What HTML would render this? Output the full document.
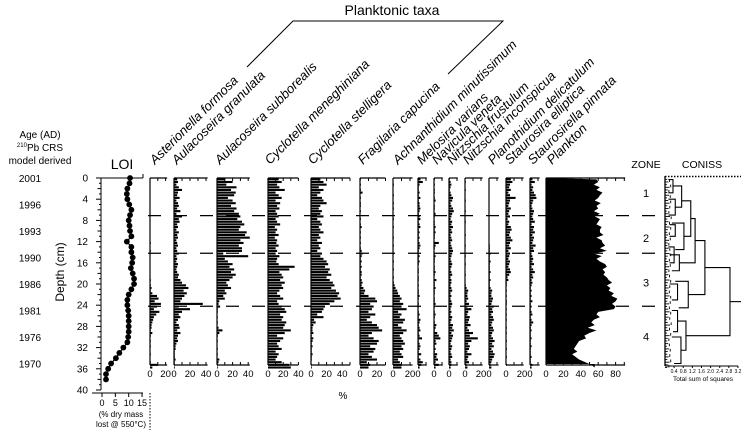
<!DOCTYPE html>
<html><head><meta charset="utf-8">
<style>
html,body{margin:0;padding:0;background:#fff;}
svg{display:block;font-family:"Liberation Sans",Arial,sans-serif;}
</style></head>
<body>
<svg id="chart" width="742" height="430" viewBox="0 0 742 430" xmlns="http://www.w3.org/2000/svg">
  <text x="392" y="15" font-size="14" text-anchor="middle">Planktonic taxa</text>
  <polyline points="247,67 293,21 503,21 448,74" fill="none" stroke="#000" stroke-width="1"/>
  <text x="40" y="138" font-size="10" text-anchor="middle">Age (AD)</text>
  <text x="40" y="151" font-size="10" text-anchor="middle"><tspan font-size="6" dy="-4">210</tspan><tspan dy="4">Pb CRS</tspan></text>
  <text x="40" y="164" font-size="10" text-anchor="middle">model derived</text>
  <text x="122" y="169" font-size="14" text-anchor="middle">LOI</text>
  <text x="646" y="168" font-size="10.5" text-anchor="middle">ZONE</text>
  <text x="702" y="168" font-size="10.5" text-anchor="middle">CONISS</text>
  <text x="0" y="0" font-size="12" text-anchor="middle" transform="translate(64,272) rotate(-90)">Depth (cm)</text>
  <text x="343" y="399" font-size="10" text-anchor="middle">%</text>
  <text x="121" y="417" font-size="8" text-anchor="middle">(% dry mass</text>
  <text x="121" y="427" font-size="8" text-anchor="middle">lost @ 550°C)</text>
  <line x1="150" y1="393" x2="150" y2="430" stroke="#000" stroke-width="1" stroke-dasharray="1.5 1.5"/>
  <text x="703" y="381" font-size="6.5" text-anchor="middle">Total sum of squares</text>
  <g id="plot"></g>
</svg>
<script>
// ---------- data ----------
const ageLabels = ["2001","1996","1993","1990","1986","1981","1976","1970"];
const ageDepths = [0,5,10,15,20,25,30,35];
const depthTicks = [0,4,8,12,16,20,24,28,32,36,40];
const zoneBoundaries = [7.1,14.2,24.2];
const zoneLabels = ["1","2","3","4"];
const zoneLabelDepths = [2.6,11.1,19.5,29.7];
const loiTicks = [0,5,10,15];
const loiDepths = [0,1,2,3,4,5,6,7,8,9,10,11,12,13,14,15,16,17,18,19,20,21,22,23,24,25,26,27,28,29,30,31,32,33,34,35,36,37,38];
const loiValues = [10.5,10.3,9.5,9.3,9.5,10.2,11,10.5,10,10.3,10.5,11,9.3,11,11,11.5,11.3,10.8,11.5,12,12,11,10,9.5,9.5,9.8,10,10,10,10,9.8,9.5,8,6.5,5.2,3.4,2.3,1.5,1.5];
const sampleStep = 0.5;

const asterionella = [0,0,0,0,0,0,0,0,0,0,0,0,0,0,0,0,0,0,0,0,0,0,0,0,1,0,0,1,0,0,0,0,0,0,0,0,0,0,1,0,1,2,1,3,9,11,6,14,9,5,12,8,5,4,3,2,2,1,3,1,0,1,0,1,0,0,1,0,0,1,10,3];
const aulGranulata = [4,5,3,6,10,5,4,7,3,5,6,4,8,3,10,6,7,4,5,3,6,4,5,3,4,5,3,4,6,3,4,3,5,4,3,4,6,5,8,10,15,18,12,16,13,10,8,36,6,20,10,6,8,5,3,6,7,4,8,5,4,5,3,2,2,1,1,1,2,1,1,1];
const aulSubborealis = [10,20,12,25,18,24,22,14,20,24,18,25,22,28,30,26,32,35,30,28,38,36,42,30,34,28,32,32,8,40,10,14,20,16,22,18,24,20,16,12,14,18,10,12,8,10,3,2,4,1,1,0,1,0,1,0,2,7,3,1,0,1,0,0,1,0,1,0,3,2,1,1];
const cycMeneghiniana = [14,18,12,15,22,10,14,18,10,16,12,15,10,12,14,10,12,16,9,12,10,14,9,12,11,14,10,12,10,15,12,11,14,35,28,15,18,20,16,22,18,20,15,12,16,20,12,14,18,22,24,16,20,18,24,22,20,30,22,12,20,16,12,14,18,10,14,12,10,18,28,30];
const cycStelligera = [12,16,20,10,16,12,8,14,16,20,12,10,14,12,16,8,12,14,10,12,16,10,12,8,14,10,12,8,14,12,16,20,22,18,24,22,26,20,24,28,30,26,32,36,34,38,30,24,18,16,14,8,16,4,6,3,2,2,3,1,3,2,1,2,1,1,2,1,1,0,1,1];
const fragilaria = [1,0,1,0,1,3,0,1,0,1,1,0,1,0,0,1,0,1,2,0,1,0,1,0,1,0,1,2,3,2,1,2,1,2,1,2,2,1,2,3,2,4,6,5,10,18,20,12,16,14,10,18,12,8,14,20,22,26,14,10,16,22,20,12,18,16,10,14,20,8,12,10];
const achnanthidium = [0,0,1,0,0,0,1,0,0,1,0,1,0,0,0,1,0,0,1,0,0,0,1,0,0,1,0,0,1,0,0,1,0,0,1,0,0,1,0,1,2,3,5,6,8,10,8,12,10,16,6,10,8,14,12,6,10,16,12,8,10,12,14,10,12,8,10,12,6,8,10,10];
const melosira = [3,6,2,1,1,2,1,3,1,2,2,3,2,1,2,3,1,2,3,1,2,1,2,1,2,3,2,1,1,2,1,2,1,0,1,1,0,1,1,0,1,0,1,1,2,1,0,1,1,0,1,2,1,3,2,1,2,3,1,2,5,1,2,3,2,1,4,1,3,6,4,2];
const navicula = [1,0,1,0,1,1,0,1,2,0,1,1,0,2,1,0,1,1,2,1,2,1,1,0,6,2,1,0,1,2,1,1,0,1,1,2,1,0,3,1,1,2,1,1,0,1,1,2,1,0,1,2,1,0,1,3,2,1,4,6,8,2,3,1,2,1,4,3,5,2,6,2];
const nitzFrustulum = [1,2,3,2,1,2,3,5,4,2,3,5,6,4,3,2,4,3,5,3,4,2,3,4,2,3,4,5,4,3,2,3,4,3,2,3,4,2,3,3,2,3,4,2,3,2,3,4,3,2,3,2,4,3,2,5,4,6,3,5,4,3,2,4,3,2,3,4,2,3,3,2];
const nitzInconspicua = [0,1,0,0,1,0,0,0,1,0,0,0,1,0,0,0,1,0,0,0,0,1,0,0,0,1,0,0,0,1,0,0,1,0,0,0,1,0,0,0,1,2,4,3,3,4,2,5,3,8,4,3,6,5,4,7,3,5,10,6,16,8,4,6,5,3,8,4,3,5,2,3];
const planothidium = [0,0,0,0,0,0,0,0,0,0,0,0,0,0,0,0,0,0,0,0,0,0,0,0,0,1,1,1,2,1,1,2,1,1,1,2,1,1,2,1,1,2,4,3,3,5,4,3,6,4,5,3,5,6,4,3,5,6,4,3,5,7,4,6,3,5,7,6,4,3,2,3];
const staurElliptica = [6,8,5,4,6,3,5,12,5,4,3,6,4,3,5,2,4,3,6,7,5,4,6,8,5,4,6,3,5,4,3,5,4,3,5,6,4,2,3,1,1,0,1,0,1,0,1,1,0,1,0,1,0,1,0,0,1,0,1,0,0,1,0,0,1,0,0,1,0,0,1,0];
const staurPinnata = [3,6,2,4,3,5,7,8,4,3,2,3,5,4,3,4,6,2,5,4,6,3,5,4,3,7,4,5,2,3,4,3,5,2,4,6,3,4,2,3,2,1,2,1,2,1,3,1,2,1,2,3,1,2,4,2,1,2,1,1,2,1,1,2,1,1,1,2,1,1,3,2];
const plankton = [58,60,55,62,58,65,62,60,56,63,58,60,55,62,56,62,60,58,64,62,62,66,58,64,65,68,62,70,55,64,58,62,68,70,65,68,66,70,72,76,70,74,72,78,75,82,80,76,80,78,60,58,62,55,52,56,48,58,50,44,46,38,36,34,32,36,30,34,38,45,52,56];

const taxonNames = ["Asterionella formosa","Aulacoseira granulata","Aulacoseira subborealis","Cyclotella meneghiniana","Cyclotella stelligera","Fragilaria capucina","Achnanthidium minutissimum","Melosira varians","Navicula veneta","Nitzschia frustulum","Nitzschia inconspicua","Planothidium delicatulum","Staurosira elliptica","Staurosirella pinnata","Plankton"];
const taxonSeries = [asterionella,aulGranulata,aulSubborealis,cycMeneghiniana,cycStelligera,fragilaria,achnanthidium,melosira,navicula,nitzFrustulum,nitzInconspicua,planothidium,staurElliptica,staurPinnata,plankton];
const taxonTickLabels = [[0,20],[0,20,40],[0,20,40],[0,20,40],[0,20,40],[0,20],[0,20],[0],[0],[0],[0,20],[0],[0,20],[0],[0,20,40,60,80]];
const taxonAxisMax = [22,42,42,40,50,30,23,11,11,11,22,12,22,12,91];

const conissTicks = [0.4,0.8,1.2,1.6,2.0,2.4,2.8,3.2];
const leafSS = [0.1,0.15,0.08,0.2,0.12,0.1,0.18,0.09,0.14,0.2,0.1,0.16,0.08,0.12,0.22,0.1,0.15,0.09,0.2,0.12,0.1,0.14,0.08,0.18,0.12,0.1,0.16,0.1,0.2,0.12,0.08,0.14,0.1,0.18,0.12,0.1,0.15,0.08,0.2,0.12,0.1,0.16,0.1,0.14,0.2,0.12,0.1,0.18,0.09,0.14,0.2,0.1,0.16,0.08,0.12,0.22,0.1,0.15,0.09,0.2,0.12,0.1,0.14,0.08,0.18,0.12,0.1,0.16,0.1,0.2,0.12,0.1];
const mergeTop = [0.3,4,1.5,8.5,14.5,4.3,7.65,19.5,11.8,25,30,27,16.9,8.8,20,13];
const mergeBot = [2.8,7,5.5,13.5,17.5,11,16,24.5,22,29,35,32.5,29.75,11,23,16];
const mergeSS  = [0.35,0.45,0.73,0.83,0.63,1.13,1.32,1.02,1.75,0.55,0.7,0.92,2.85,0.45,0.55,0.4];
const mergeC1  = [0.15,0.15,0.35,0.3,0.2,0.73,1.13,0.45,1.32,0.3,0.3,0.55,1.75,0.2,0.2,0.15];
const mergeC2  = [0.15,0.15,0.45,0.45,0.3,0.83,0.63,0.6,1.02,0.35,0.4,0.7,0.92,0.2,0.3,0.2];

// ---------- geometry ----------
const Y0 = 178, PXCM = 5.3;
function yOf(d){ return Y0 + d*PXCM; }
const panelX0 = [150,174,217,268,311,360,393,418,434,449,465,489,506,530,546];
const panelScale = [0.78,0.8,0.78,0.76,0.78,0.85,0.85,0.8,0.8,0.8,0.8,0.8,0.8,0.8,0.87];
const labelX = [155,177,220,270,313,363,398,422,437,452,468,493,510,533,552];
const LOI_X0 = 102, LOI_S = 2.67;
function loiX(v){ return LOI_X0 + v*LOI_S; }
const CX0 = 665, CS = 22.8;
function cX(v){ return CX0 + v*CS; }

const NS = "http://www.w3.org/2000/svg";
const plot = document.getElementById('plot');
function mk(tag, attrs, name, parent){
  const el = document.createElementNS(NS, tag);
  for (const k in attrs) el.setAttribute(k, attrs[k]);
  
  
  (parent||plot).appendChild(el);
  return el;
}
function line(x1,y1,x2,y2,name,extra){
  const a = {x1:x1,y1:y1,x2:x2,y2:y2,stroke:'#000','stroke-width':1};
  if (extra) for (const k in extra) a[k]=extra[k];
  return mk('line',a,name);
}
function text(x,y,s,size,name,anchor,extra){
  const a = {x:x,y:y,'font-size':size,'text-anchor':anchor||'middle'};
  if (extra) for (const k in extra) a[k]=extra[k];
  const t = mk('text',a,name);
  t.textContent = s;
  return t;
}

zoneBoundaries.forEach(function(d,i){
  line(148,yOf(d),668,yOf(d),'zone-boundary-'+(i+1),{'stroke-width':1.3,'stroke-dasharray':'13 13'});
});

ageLabels.forEach(function(a,i){ text(30,yOf(ageDepths[i])+4,a,10,'age-label-'+a); });

line(101,Y0,101,yOf(40),'depth-axis');
for (let d=0; d<=40; d+=1){
  const major = d%4===0, mid = d%2===0;
  line(major?96:(mid?97.5:99),yOf(d),101,yOf(d),'depth-tick');
}
depthTicks.forEach(function(d){ text(88,yOf(d)+3.5,String(d),10,'depth-label-'+d,'end'); });

// LOI panel
line(101,Y0,143,Y0,'loi-top-axis');
line(143,Y0,143,Y0-4,'loi-top-tick');
line(92,393,143,393,'loi-x-axis');
loiTicks.forEach(function(v){
  line(loiX(v),393,loiX(v),397,'loi-x-tick');
  text(loiX(v),406,String(v),9,'loi-x-label-'+v);
});
let pts = loiValues.map(function(v,i){ return loiX(v)+','+yOf(loiDepths[i]); }).join(' ');
mk('polyline',{points:pts,fill:'none',stroke:'#000','stroke-width':1.2},'loi-line');
loiValues.forEach(function(v,i){
  mk('circle',{cx:loiX(v),cy:yOf(loiDepths[i]),r:2.9,fill:'#000'},'loi-point');
});

// taxon panels
const AXB = 365;
taxonSeries.forEach(function(series,p){
  const x0 = panelX0[p], s = panelScale[p];
  const xEnd = x0 + taxonAxisMax[p]*s;
  const g = mk('g',{},'panel-'+taxonNames[p].toLowerCase().replace(/ /g,'-'));
  const t = mk('text',{x:labelX[p],y:165,'font-size':13,'font-style':'italic',transform:'rotate(-45 '+labelX[p]+' 165)'},'taxon-title',g);
  t.textContent = taxonNames[p];
  mk('line',{x1:x0,y1:Y0,x2:xEnd,y2:Y0,stroke:'#000','stroke-width':1.2},'panel-top-axis',g);
  mk('line',{x1:x0,y1:AXB,x2:xEnd,y2:AXB,stroke:'#000','stroke-width':1.2},'panel-bottom-axis',g);
  mk('line',{x1:x0,y1:Y0,x2:x0,y2:AXB,stroke:'#000','stroke-width':1.2},'panel-baseline',g);
  for (let v=0; v<=taxonAxisMax[p]; v+=10){
    mk('line',{x1:x0+v*s,y1:Y0,x2:x0+v*s,y2:Y0+3,stroke:'#000','stroke-width':1},'panel-top-tick',g);
    mk('line',{x1:x0+v*s,y1:AXB,x2:x0+v*s,y2:AXB-3,stroke:'#000','stroke-width':1},'panel-bottom-tick',g);
  }
  taxonTickLabels[p].forEach(function(v){
    const tl = mk('text',{x:x0+v*s,y:377,'font-size':9.5,'text-anchor':'middle'},'panel-tick-label',g);
    tl.textContent = String(v);
  });
  if (p === taxonSeries.length-1){
    let d = 'M'+x0+','+yOf(0);
    series.forEach(function(v,i){ d += ' L'+(x0+v*s)+','+yOf(i*sampleStep+0.25); });
    d += ' L'+(x0+series[series.length-1]*s)+','+(AXB-1)+' L'+x0+','+(AXB-1)+' Z';
    mk('path',{d:d,fill:'#000'},'plankton-area',g);
  } else {
    series.forEach(function(v,i){
      if (v<=0) return;
      mk('rect',{x:x0,y:yOf(i*sampleStep)+0.3,width:v*s,height:2.1,fill:'#000'},'bar',g);
    });
  }
});

zoneLabels.forEach(function(z,i){ text(646,yOf(zoneLabelDepths[i])+5,z,11,'zone-label-'+z); });

// CONISS
line(CX0,Y0-2,CX0,366,'coniss-y-axis',{'stroke-width':1.3});
line(CX0,366,738,366,'coniss-x-axis');
line(CX0,176.5,741,176.5,'coniss-top-dotted',{'stroke-dasharray':'1.5 1.5','stroke-width':1.5});
conissTicks.forEach(function(v){
  line(cX(v),366,cX(v),368,'coniss-tick');
  text(cX(v),373,v.toFixed(1),5,'coniss-tick-label-'+v);
});
leafSS.forEach(function(v,i){
  line(CX0,yOf(i*sampleStep+0.25),cX(v),yOf(i*sampleStep+0.25),'coniss-leaf',{'stroke-width':0.9});
});
for (let i=0;i<leafSS.length-1;i+=2){
  const m = Math.max(leafSS[i],leafSS[i+1])+0.05;
  line(cX(m),yOf(i*sampleStep+0.25),cX(m),yOf((i+1)*sampleStep+0.25),'coniss-leaf-pair',{'stroke-width':0.9});
}
mergeSS.forEach(function(ss,i){
  const y1 = yOf(mergeTop[i]), y2 = yOf(mergeBot[i]), x = cX(ss);
  mk('polyline',{points:cX(mergeC1[i])+','+y1+' '+x+','+y1+' '+x+','+y2+' '+cX(mergeC2[i])+','+y2,fill:'none',stroke:'#000','stroke-width':1.1},'coniss-merge');
});
line(cX(2.85),yOf((mergeTop[12]+mergeBot[12])/2),741,yOf((mergeTop[12]+mergeBot[12])/2),'coniss-root',{'stroke-width':1.1});
</script>
</body></html>
